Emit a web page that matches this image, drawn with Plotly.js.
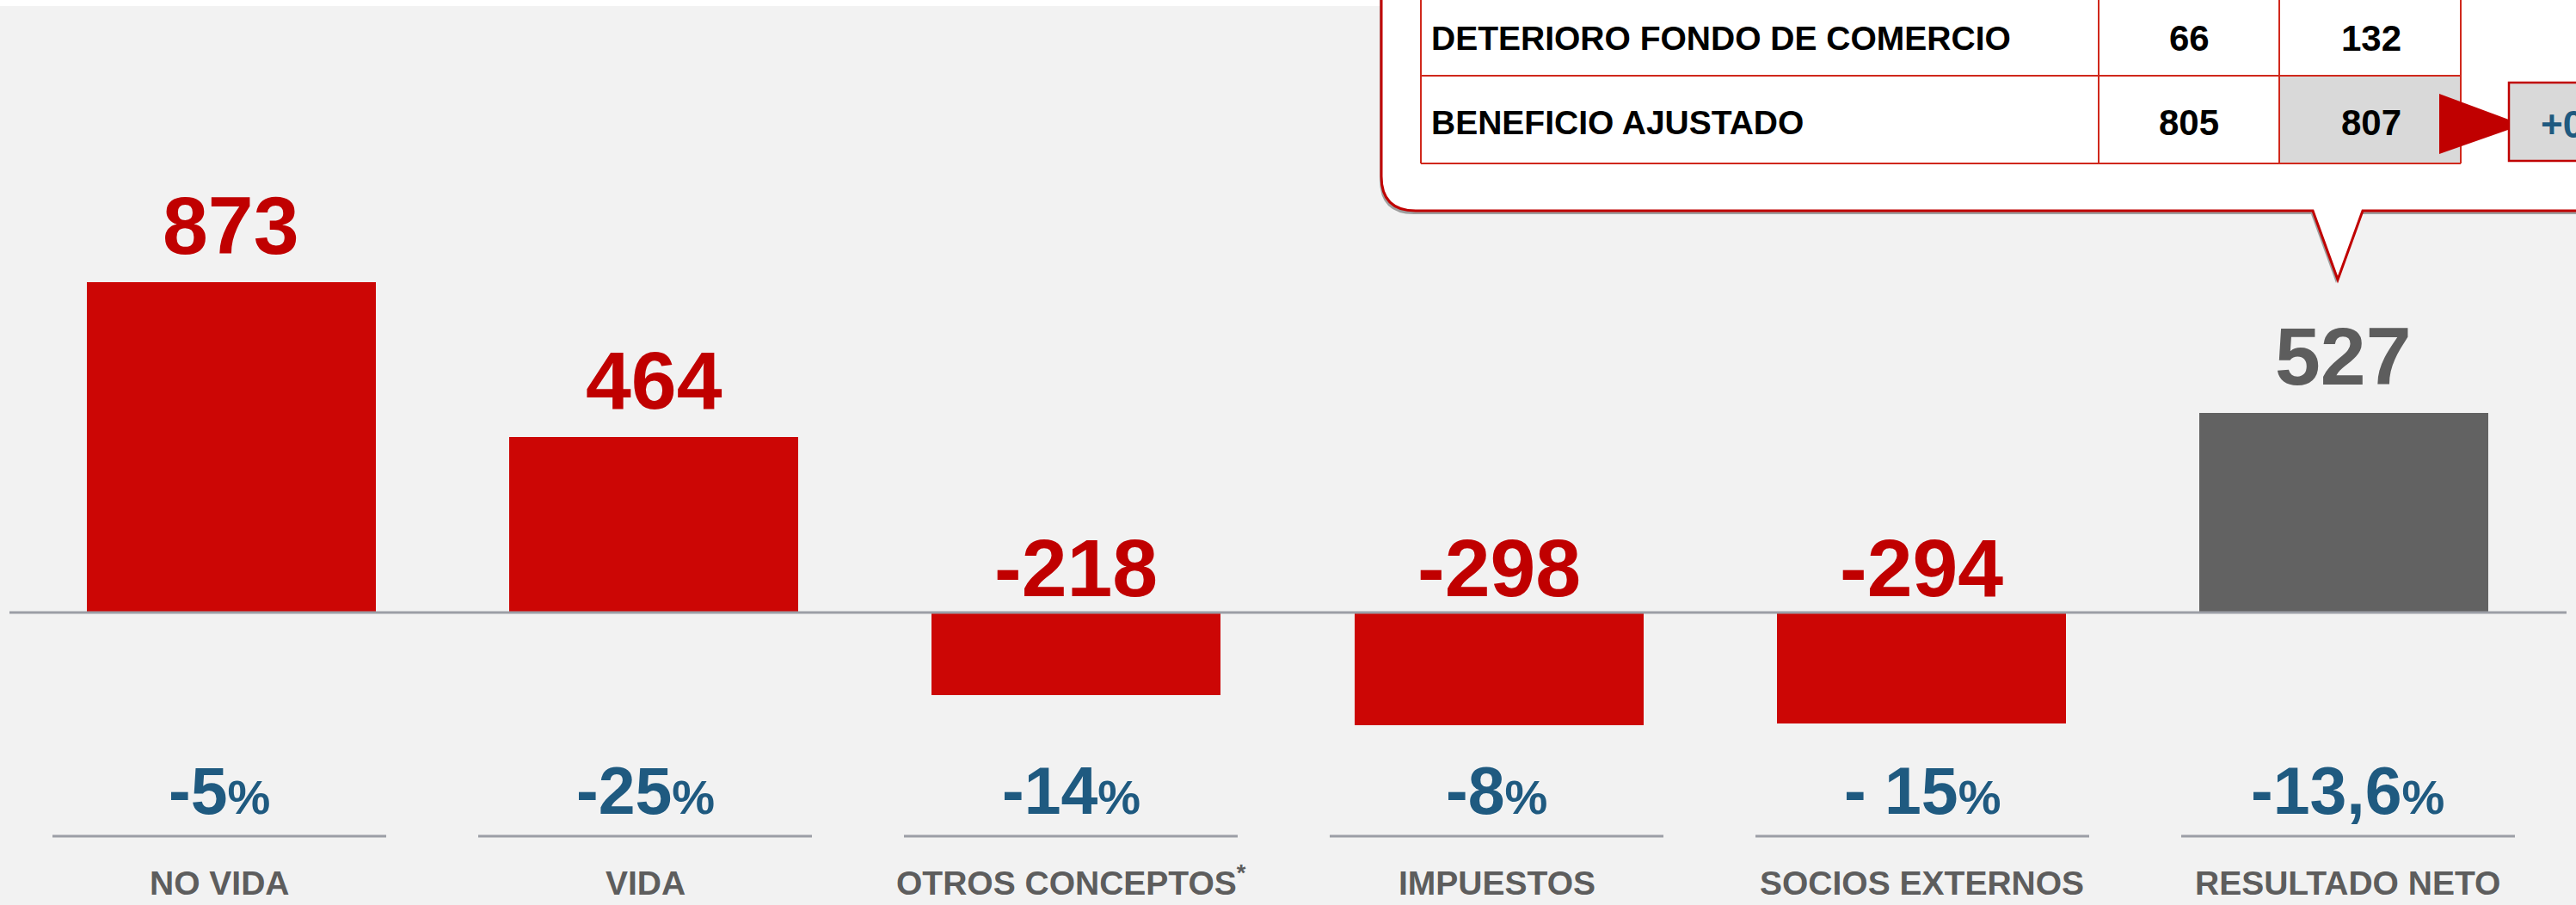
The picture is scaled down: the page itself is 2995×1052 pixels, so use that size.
<!DOCTYPE html>
<html><head><meta charset="utf-8">
<script src="https://cdn.plot.ly/plotly-3.0.1.min.js"></script>
<style>html,body{margin:0;padding:0;background:#f2f2f2;overflow:hidden}</style>
</head><body><div id="chart" style="width:2995px;height:1052px"></div>
<script>
// ---------- DATA ----------
const categories = ['NO VIDA', 'VIDA', 'OTROS CONCEPTOS', 'IMPUESTOS', 'SOCIOS EXTERNOS', 'RESULTADO NETO'];
const categoryLabels = ['NO VIDA', 'VIDA', 'OTROS CONCEPTOS<sup>*</sup>', 'IMPUESTOS', 'SOCIOS EXTERNOS', 'RESULTADO NETO'];
const values = [873, 464, -218, -298, -294, 527];
const valueLabels = ['873', '464', '-218', '-298', '-294', '527'];
const changeNumbers = ['-5', '-25', '-14', '-8', '- 15', '-13,6'];
const tableRows = ['DETERIORO FONDO DE COMERCIO', 'BENEFICIO AJUSTADO'];
const tableCol1 = [66, 805];
const tableCol2 = [132, 807];
const adjustedChange = '+0,2%';

// ---------- LAYOUT HELPERS ----------
const W = 2995, H = 1052;
const px = x => x / W;
const py = y => 1 - y / H;
const RED = '#cc0605', RED_TXT = '#c00000', GREY_BAR = '#626262', GREY_TXT = '#5d5d5d';
const BLUE = '#1f5a80', AXIS = '#9b9ea6', TABLE_LINE = '#d0281c';
const NUM_FONT = 'Liberation Sans, Arial, sans-serif';
const LBL_FONT = 'Liberation Sans, Arial, sans-serif';
const last = categories.length - 1;

const traces = [
  {
    type: 'bar', x: categories, y: values, width: 0.684,
    marker: { color: values.map((v, i) => i === last ? GREY_BAR : RED), line: { width: 0 } },
    hoverinfo: 'skip', showlegend: false
  },
  { // anchor trace for the label axis
    type: 'scatter', mode: 'markers', x: categories, y: values, xaxis: 'x2', yaxis: 'y',
    marker: { opacity: 0 }, hoverinfo: 'skip', showlegend: false
  }
];

const annotations = [];
const shapes = [];

// white band at top
shapes.push({ type: 'rect', xref: 'paper', yref: 'paper', x0: 0, x1: 1, y0: py(7), y1: py(-5),
  fillcolor: '#ffffff', line: { width: 0 }, layer: 'below' });

// baseline
shapes.push({ type: 'line', xref: 'paper', yref: 'y', x0: px(11), x1: px(2984), y0: 0, y1: 0,
  line: { color: AXIS, width: 3 }, layer: 'above' });

categories.forEach((c, i) => {
  const v = values[i];
  annotations.push({
    xref: 'x', yref: 'y', x: c, y: Math.max(v, 0), yanchor: 'bottom', xanchor: 'center',
    yshift: v >= 0 ? 11 : -3, showarrow: false, text: valueLabels[i],
    font: { family: NUM_FONT, size: 95, weight: 700, color: i === last ? GREY_TXT : RED_TXT }
  });
  annotations.push({
    xref: 'x2', yref: 'paper', x: c, y: py(964), yanchor: 'bottom', xanchor: 'center',
    showarrow: false, text: changeNumbers[i] + '<span style="font-size:56px">%</span>',
    font: { family: NUM_FONT, size: 77, weight: 700, color: BLUE }
  });
  annotations.push({
    xref: 'x2', yref: 'paper', x: c, y: py(1050), yanchor: 'bottom', xanchor: 'center',
    showarrow: false, text: categoryLabels[i],
    font: { family: LBL_FONT, size: 39, weight: 700, color: GREY_TXT }
  });
  shapes.push({
    type: 'line', xref: 'x2', xsizemode: 'pixel', xanchor: c, x0: -194, x1: 194,
    yref: 'paper', y0: py(972), y1: py(972), line: { color: AXIS, width: 3 }
  });
});

// ---------- CALLOUT ----------
const boxPath = (dx, dy) =>
  `M ${px(1606 + dx)},${py(-30)} L ${px(1606 + dx)},${py(205 + dy)} ` +
  `Q ${px(1606 + dx)},${py(245 + dy)} ${px(1646 + dx)},${py(245 + dy)} ` +
  `L ${px(2689 + dx)},${py(245 + dy)} L ${px(2718 + dx)},${py(325 + dy)} L ${px(2747 + dx)},${py(245 + dy)} ` +
  `L ${px(3080)},${py(245 + dy)} L ${px(3080)},${py(-30)} Z`;
shapes.push({ type: 'path', xref: 'paper', yref: 'paper', path: boxPath(-2, 4),
  fillcolor: 'rgba(90,90,90,0.55)', line: { width: 0 } });
shapes.push({ type: 'path', xref: 'paper', yref: 'paper', path: boxPath(0, 0),
  fillcolor: '#ffffff', line: { color: RED_TXT, width: 3 } });

// highlighted cell
shapes.push({ type: 'rect', xref: 'paper', yref: 'paper', x0: px(2650), x1: px(2861), y0: py(190), y1: py(88),
  fillcolor: '#d9d9d9', line: { width: 0 } });
// table grid
[1652, 2440, 2650, 2861].forEach(x => shapes.push({ type: 'line', xref: 'paper', yref: 'paper',
  x0: px(x), x1: px(x), y0: py(-20), y1: py(190), line: { color: TABLE_LINE, width: 2 } }));
[88, 190].forEach(y => shapes.push({ type: 'line', xref: 'paper', yref: 'paper',
  x0: px(1652), x1: px(2861), y0: py(y), y1: py(y), line: { color: TABLE_LINE, width: 2 } }));

const rowCenters = [45, 142];
tableRows.forEach((r, i) => {
  annotations.push({ xref: 'paper', yref: 'paper', x: px(1662), y: py(rowCenters[i]), xanchor: 'left', yanchor: 'middle',
    showarrow: false, text: r, font: { family: NUM_FONT, size: 39, weight: 700, color: '#000000' } });
  annotations.push({ xref: 'paper', yref: 'paper', x: px(2545), y: py(rowCenters[i]), xanchor: 'center', yanchor: 'middle',
    showarrow: false, text: String(tableCol1[i]), font: { family: NUM_FONT, size: 42, weight: 700, color: '#000000' } });
  annotations.push({ xref: 'paper', yref: 'paper', x: px(2757), y: py(rowCenters[i]), xanchor: 'center', yanchor: 'middle',
    showarrow: false, text: String(tableCol2[i]), font: { family: NUM_FONT, size: 42, weight: 700, color: '#000000' } });
});

// arrow and change box
shapes.push({ type: 'path', xref: 'paper', yref: 'paper',
  path: `M ${px(2836)},${py(109)} L ${px(2933)},${py(145)} L ${px(2836)},${py(179)} Z`,
  fillcolor: RED_TXT, line: { width: 0 } });
shapes.push({ type: 'rect', xref: 'paper', yref: 'paper', x0: px(2917), x1: px(3080), y0: py(187), y1: py(96),
  fillcolor: '#d9d9d9', line: { color: RED_TXT, width: 2.5 } });
annotations.push({ xref: 'paper', yref: 'paper', x: px(2952), y: py(145), xanchor: 'left', yanchor: 'middle',
  showarrow: false, text: adjustedChange, font: { family: NUM_FONT, size: 44, weight: 700, color: BLUE } });

const layout = {
  width: W, height: H, margin: { l: 0, r: 0, t: 0, b: 0, pad: 0 },
  paper_bgcolor: '#f2f2f2', plot_bgcolor: 'rgba(0,0,0,0)', showlegend: false,
  xaxis: { type: 'category', categoryarray: categories, range: [-0.5476, 5.5497], visible: false, fixedrange: true },
  xaxis2: { type: 'category', categoryarray: categories, overlaying: 'x', range: [-0.5152, 5.5354], visible: false, fixedrange: true },
  yaxis: { range: [-773.6, 1620.0], visible: false, zeroline: false, showgrid: false, fixedrange: true },
  bargap: 0, shapes: shapes, annotations: annotations
};

Plotly.newPlot('chart', traces, layout, { staticPlot: true, displayModeBar: false });
</script></body></html>
